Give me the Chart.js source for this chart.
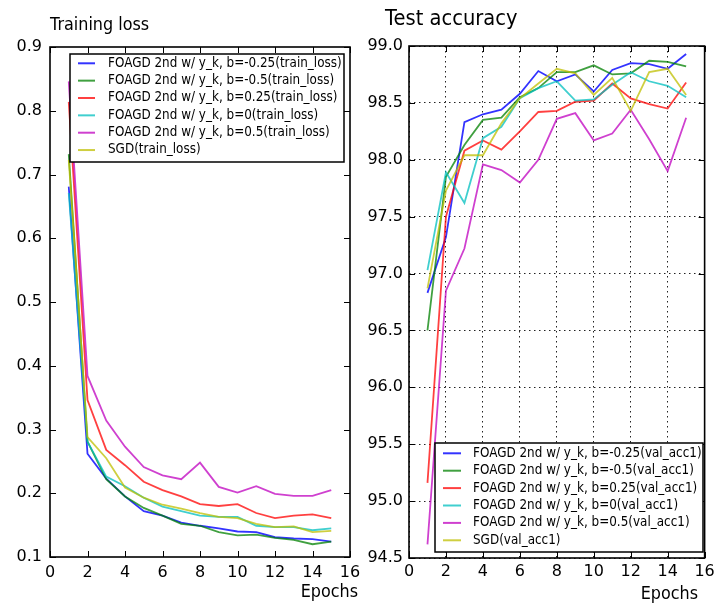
<!DOCTYPE html>
<html><head><meta charset="utf-8">
<script src="https://cdn.jsdelivr.net/npm/chart.js@4.4.1/dist/chart.umd.min.js"></script>
<style>
html,body{margin:0;padding:0;background:#fff;}
#wrap{position:relative;width:719px;height:603px;overflow:hidden;}
canvas{position:absolute;left:0;top:0;}
</style></head><body>
<div id="wrap"><canvas id="c1" width="719" height="603"></canvas><canvas id="c2" width="719" height="603"></canvas></div>
<script>
// ---------------- data ----------------
const epochs = [1,2,3,4,5,6,7,8,9,10,11,12,13,14,15];

const seriesNames = [
  'FOAGD 2nd w/ y_k, b=-0.25',
  'FOAGD 2nd w/ y_k, b=-0.5',
  'FOAGD 2nd w/ y_k, b=0.25',
  'FOAGD 2nd w/ y_k, b=0',
  'FOAGD 2nd w/ y_k, b=0.5',
  'SGD'
];

// training loss
const lossBm025 = [0.681,0.262,0.223,0.195,0.172,0.165,0.154,0.149,0.145,0.140,0.139,0.131,0.129,0.128,0.124];
const lossBm05  = [0.732,0.281,0.222,0.195,0.177,0.165,0.152,0.149,0.139,0.134,0.135,0.130,0.127,0.120,0.124];
const lossB025  = [0.814,0.346,0.268,0.244,0.218,0.205,0.195,0.183,0.180,0.183,0.169,0.161,0.165,0.167,0.161];
const lossB0    = [0.671,0.281,0.226,0.211,0.193,0.179,0.172,0.165,0.163,0.163,0.149,0.147,0.147,0.142,0.145];
const lossB05   = [0.846,0.384,0.314,0.273,0.241,0.228,0.222,0.248,0.210,0.201,0.211,0.199,0.196,0.196,0.205];
const lossSGD   = [0.723,0.288,0.255,0.209,0.193,0.182,0.176,0.169,0.163,0.161,0.152,0.147,0.148,0.139,0.141];

// test accuracy
const accBm025 = [96.83,97.32,98.33,98.40,98.44,98.58,98.78,98.69,98.75,98.60,98.79,98.85,98.84,98.80,98.93];
const accBm05  = [96.50,97.85,98.13,98.35,98.37,98.55,98.63,98.77,98.77,98.83,98.75,98.76,98.87,98.86,98.82];
const accB025  = [95.16,97.50,98.08,98.17,98.09,98.25,98.42,98.43,98.51,98.52,98.67,98.54,98.49,98.45,98.68];
const accB0    = [97.03,97.89,97.62,98.19,98.29,98.54,98.63,98.69,98.52,98.53,98.66,98.77,98.69,98.65,98.55];
const accB05   = [94.62,96.85,97.22,97.96,97.91,97.80,98.00,98.36,98.41,98.17,98.23,98.44,98.18,97.90,98.37];
const accSGD   = [96.87,97.73,98.04,98.04,98.32,98.54,98.67,98.80,98.76,98.57,98.72,98.43,98.77,98.80,98.57];

// ticks
const xTickValues = [0,2,4,6,8,10,12,14,16];
const xTickLabels = ['0','2','4','6','8','10','12','14','16'];
const lossTickValues = [0.1,0.2,0.3,0.4,0.5,0.6,0.7,0.8,0.9];
const lossTickLabels = ['0.1','0.2','0.3','0.4','0.5','0.6','0.7','0.8','0.9'];
const accTickValues = [94.5,95.0,95.5,96.0,96.5,97.0,97.5,98.0,98.5,99.0];
const accTickLabels = ['94.5','95.0','95.5','96.0','96.5','97.0','97.5','98.0','98.5','99.0'];

// ---------------- styles ----------------
const lineColors = [
  'rgba(0,0,255,0.8)',
  'rgba(0,128,0,0.75)',
  'rgba(255,0,0,0.75)',
  'rgba(0,191,191,0.75)',
  'rgba(191,0,191,0.75)',
  'rgba(191,191,0,0.75)'
];
const FONT = 'DejaVu Sans';

function toPoints(vals){ return epochs.map((e,i)=>({x:e, y:vals[i]})); }

function stretchedText(ctx, text, x, y, sy) {
  ctx.save();
  ctx.translate(x, y);
  ctx.scale(1, sy);
  ctx.fillText(text, 0, 0);
  ctx.restore();
}

const decor = {
  id: 'decor',
  afterDatasetsDraw(chart, args, o) {
    const {ctx, chartArea: a, scales: {x, y}} = chart;
    ctx.save();
    // inward ticks on all four sides
    ctx.strokeStyle = '#000';
    ctx.lineWidth = 1;
    const L = 6;
    ctx.beginPath();
    x.ticks.forEach(t => {
      const px = Math.round(x.getPixelForValue(t.value)) + 0.5;
      ctx.moveTo(px, a.bottom); ctx.lineTo(px, a.bottom - L);
      ctx.moveTo(px, a.top); ctx.lineTo(px, a.top + L);
    });
    y.ticks.forEach(t => {
      const py = Math.round(y.getPixelForValue(t.value)) + 0.5;
      ctx.moveTo(a.left, py); ctx.lineTo(a.left + L, py);
      ctx.moveTo(a.right, py); ctx.lineTo(a.right - L, py);
    });
    ctx.stroke();
    // frame
    ctx.lineWidth = 1.6;
    ctx.strokeRect(a.left, a.top, a.right - a.left, a.bottom - a.top);

    // legend
    const lg = o.legend;
    ctx.fillStyle = '#fff';
    ctx.fillRect(lg.x, lg.y, lg.w, lg.h);
    ctx.lineWidth = 1.5;
    ctx.strokeStyle = '#000';
    ctx.strokeRect(lg.x, lg.y, lg.w, lg.h);
    ctx.font = '12px "' + FONT + '"';
    ctx.textBaseline = 'middle';
    ctx.textAlign = 'left';
    chart.data.datasets.forEach((ds, i) => {
      const ry = lg.row0 + i * lg.step;
      ctx.strokeStyle = ds.borderColor;
      ctx.lineWidth = 2;
      ctx.beginPath();
      ctx.moveTo(lg.s0, ry); ctx.lineTo(lg.s1, ry);
      ctx.stroke();
      ctx.fillStyle = '#000';
      stretchedText(ctx, ds.label, lg.tx, ry, 1.1);
    });

    // title and axis label
    ctx.fillStyle = '#000';
    ctx.textBaseline = 'alphabetic';
    ctx.textAlign = 'left';
    ctx.font = o.titleSize + 'px "' + FONT + '"';
    stretchedText(ctx, o.title, o.titleX, o.titleY, 1.12);
    ctx.textAlign = 'right';
    ctx.textBaseline = 'middle';
    ctx.font = '16px "' + FONT + '"';
    stretchedText(ctx, 'Epochs', o.xlabX, o.xlabY, 1.15);
    ctx.restore();
  }
};

function makeChart(id, seriesList, suffix, yTickValues, yTickLabels, area, isGrid, decorOpts, yPad, xPad) {
  const W = 719, H = 603;
  const yAxisW = 50, xAxisH = 40;
  const datasets = seriesList.map((vals, i) => ({
    label: seriesNames[i] + suffix,
    data: toPoints(vals),
    borderColor: lineColors[i],
    backgroundColor: lineColors[i],
    borderWidth: 1.8,
    pointRadius: 0,
    tension: 0,
    fill: false,
    order: seriesList.length - i
  }));
  return new Chart(document.getElementById(id), {
    type: 'line',
    data: { datasets },
    plugins: [decor],
    options: {
      responsive: false,
      animation: false,
      devicePixelRatio: 1,
      layout: { padding: { left: area.left - yAxisW, right: W - area.right, top: area.top, bottom: H - area.bottom - xAxisH } },
      plugins: { legend: { display: false }, tooltip: { enabled: false }, title: { display: false }, decor: decorOpts },
      scales: {
        x: {
          type: 'linear', min: 0, max: 16,
          afterBuildTicks: s => { s.ticks = xTickValues.map(v => ({ value: v })); },
          afterFit: s => { s.height = xAxisH; },
          ticks: { callback: (v, i) => xTickLabels[i], font: { family: FONT, size: 16 }, color: '#000', padding: xPad, maxRotation: 0, autoSkip: false },
          grid: { display: isGrid, drawTicks: false, color: '#222', lineWidth: 1 },
          border: { display: false, dash: [1.5, 3.5] }
        },
        y: {
          type: 'linear', min: yTickValues[0], max: yTickValues[yTickValues.length - 1],
          afterBuildTicks: s => { s.ticks = yTickValues.map(v => ({ value: v })); },
          afterFit: s => { s.width = yAxisW; },
          ticks: { callback: (v, i) => yTickLabels[i], font: { family: FONT, size: 16 }, color: '#000', padding: yPad, autoSkip: false },
          grid: { display: isGrid, drawTicks: false, color: '#222', lineWidth: 1 },
          border: { display: false, dash: [1.5, 3.5] }
        }
      }
    }
  });
}

makeChart('c1', [lossBm025, lossBm05, lossB025, lossB0, lossB05, lossSGD], '(train_loss)',
  lossTickValues, lossTickLabels, { left: 50, right: 350, top: 47, bottom: 557 }, false,
  { title: 'Training loss', titleSize: 16, titleX: 50, titleY: 30, xlabX: 358, xlabY: 592,
    legend: { x: 70, y: 54, w: 274, h: 108, row0: 63.3, step: 17.35, s0: 78, s1: 95, tx: 108 } }, 8, 6.4);

makeChart('c2', [accBm025, accBm05, accB025, accB0, accB05, accSGD], '(val_acc1)',
  accTickValues, accTickLabels, { left: 409, right: 710, top: 46, bottom: 558 }, true,
  { title: 'Test accuracy', titleSize: 19.5, titleX: 385, titleY: 25, xlabX: 698, xlabY: 594,
    legend: { x: 435, y: 443, w: 268, h: 109, row0: 453.3, step: 17.4, s0: 443, s1: 461, tx: 473 } }, 6, 4.2);
</script>
</body></html>
